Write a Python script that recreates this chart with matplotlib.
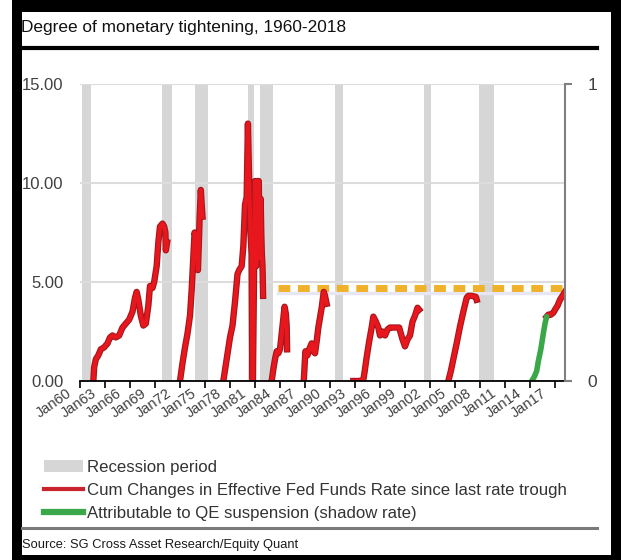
import numpy as np
import matplotlib
matplotlib.use("Agg")
import matplotlib.pyplot as plt
import matplotlib.patheffects as pe
from matplotlib.lines import Line2D
from matplotlib.patches import Patch, Rectangle
from matplotlib.transforms import ScaledTranslation

# --- data -------------------------------------------------------------------
# NBER recession periods (decimal years)
rec_start = [1960.2, 1969.8, 1973.8, 1980.1, 1981.6, 1990.6, 2001.3, 2007.9]
rec_end = [1961.3, 1971.0, 1975.4, 1980.9, 1983.1, 1991.6, 2002.1, 2009.7]

# cumulative change in effective fed funds rate since last trough (NaN breaks cycles)
nan = np.nan
red_years = [
    1961.6, 1961.7, 1961.9, 1962.2, 1962.5, 1962.9, 1963.3, 1963.6, 1963.9, 1964.3,
    1964.7, 1965.1, 1965.5, 1965.9, 1966.3, 1966.6, 1966.8, 1967.0, 1967.3, 1967.6,
    1967.9, 1968.2, 1968.4, 1968.7, 1968.9, 1969.2, 1969.4, 1969.6, 1969.9, 1970.1,
    1970.25, 1970.3, 1970.45, nan,
    1972.0, 1972.3, 1972.6, 1972.9, 1973.2, 1973.4, 1973.6, 1973.75, 1973.9, 1974.05,
    1974.15, 1974.25, 1974.35, 1974.5, 1974.6, 1974.7, nan,
    1977.2, 1977.6, 1978.0, 1978.3, 1978.6, 1978.9, 1979.1, 1979.4, 1979.6, 1979.8,
    1980.0, 1980.15, 1980.3, 1980.45, 1980.6, 1980.68, 1980.75, 1980.85, 1980.95, 1981.0,
    1981.08, 1981.15, 1981.22, 1981.3, 1981.38, 1981.45, 1981.52, 1981.6, 1981.68, 1981.75,
    1981.82, 1981.9, 1981.97, nan,
    1983.0, 1983.2, 1983.4, 1983.6, 1983.8, 1984.0, 1984.2, 1984.4, 1984.55, 1984.7,
    1984.8, 1984.85, nan,
    1986.85, 1986.95, 1987.05, 1987.3, 1987.5, 1987.8, 1988.0, 1988.2, 1988.4, 1988.6,
    1988.8, 1989.0, 1989.25, 1989.4, 1989.6, nan,
    1992.8, 1993.5, 1994.0, 1994.2, 1994.4, 1994.7, 1995.0, 1995.2, 1995.5, 1995.8,
    1996.0, 1996.3, 1996.6, 1996.9, 1997.2, 1997.8, 1998.3, 1998.7, 1999.0, 1999.3,
    1999.6, 1999.9, 2000.2, 2000.5, 2000.7, nan,
    2004.2, 2004.5, 2004.8, 2005.2, 2005.6, 2006.0, 2006.4, 2006.6, 2007.0, 2007.5,
    2007.6, nan,
    2016.0, 2016.2, 2016.5, 2016.8, 2017.0, 2017.3, 2017.6, 2017.9, 2018.2,
]
red_values = [
    0.0, 0.7, 1.1, 1.3, 1.6, 1.7, 1.9, 2.2, 2.3, 2.2,
    2.3, 2.7, 2.9, 3.1, 3.5, 4.2, 4.5, 4.1, 3.3, 2.8,
    2.9, 3.8, 4.8, 4.7, 5.0, 5.8, 7.0, 7.8, 7.95, 7.8,
    7.5, 6.6, 7.0, nan,
    0.0, 0.9, 1.7, 2.4, 3.3, 4.6, 6.3, 7.5, 7.2, 6.5,
    5.6, 6.8, 8.2, 9.65, 8.9, 8.3, nan,
    0.0, 1.1, 2.2, 2.8, 4.0, 5.4, 5.6, 5.8, 6.8, 8.9,
    9.3, 13.0, 10.0, 7.5, 6.4, 0.2, 0.0, 4.0, 8.5, 10.1,
    7.5, 5.8, 9.0, 10.1, 7.0, 10.1, 8.0, 6.2, 9.2, 7.5,
    6.4, 5.8, 4.3, nan,
    0.0, 0.6, 1.1, 1.5, 1.4, 1.6, 2.4, 3.2, 3.75, 3.4,
    2.8, 1.6, nan,
    0.0, 0.8, 1.5, 1.3, 1.6, 1.9, 1.5, 1.4, 2.0, 2.7,
    3.2, 3.7, 4.5, 4.3, 3.9, nan,
    0.0, 0.0, 0.05, 0.6, 1.2, 2.0, 2.7, 3.25, 3.0, 2.7,
    2.3, 2.5, 2.3, 2.6, 2.7, 2.7, 2.7, 2.1, 1.75, 2.1,
    2.3, 3.0, 3.3, 3.7, 3.6, nan,
    0.0, 0.5, 1.1, 1.9, 2.75, 3.5, 4.2, 4.3, 4.3, 4.25,
    4.1, nan,
    3.25, 3.35, 3.35, 3.45, 3.6, 3.8, 4.1, 4.3, 4.5,
]

# part of the current cycle attributable to QE suspension (shadow rate)
qe_years = [2014.2, 2014.5, 2014.8, 2015.0, 2015.3, 2015.6, 2015.8, 2016.0]
qe_values = [0.0, 0.2, 0.5, 1.0, 1.6, 2.4, 2.9, 3.25]

# average tightening level, shown from 1984 on
avg_level = 4.7
avg_start, avg_end = 1983.8, 2018.2

tick_years = list(range(1960, 2018, 3))
tick_labels = ["Jan%02d" % (y % 100) for y in tick_years]

legend_labels = [
    "Recession period",
    "Cum Changes in Effective Fed Funds Rate since last rate trough",
    "Attributable to QE suspension (shadow rate)",
]

plt.rcParams["font.family"] = ["Liberation Sans", "DejaVu Sans"]

W, H = 621, 560
def fx(px):
    return px / W
def fy(py):
    return 1 - py / H

fig = plt.figure(figsize=(W / 100, H / 100), dpi=100, facecolor="white")

# black frame around the panel
fig.add_artist(Rectangle((fx(12), 0), 1 - fx(12), 1, transform=fig.transFigure,
                         facecolor="black", edgecolor="none", zorder=-10))
fig.add_artist(Rectangle((fx(22), fy(555)), fx(611) - fx(22), fy(12) - fy(555),
                         transform=fig.transFigure, facecolor="white",
                         edgecolor="none", zorder=-9))

fig.text(fx(21), fy(32), "Degree of monetary tightening, 1960-2018",
         fontsize=12.4, color="#111111", va="baseline", ha="left")
fig.add_artist(Line2D([fx(22), fx(597)], [fy(48), fy(48)], transform=fig.transFigure,
                      color="black", lw=3))

ax = fig.add_axes([fx(80), fy(381), fx(565) - fx(80), fy(84) - fy(381)])
ax.set_xlim(1960, 2018.2)
ax.set_ylim(0, 15)

for s, e in zip(rec_start, rec_end):
    ax.axvspan(s, e, color="#d6d6d6", lw=0, zorder=0)

ax.set_yticks([0, 5, 10, 15])
ax.set_yticklabels(["%.2f" % v for v in [0, 5, 10, 15]])
ax.grid(axis="y", color="#dcdcdc", lw=1.5, zorder=0.5)
ax.grid(axis="x", visible=False)

# faint shadow under the dashed level
ax.plot([avg_start, avg_end], [avg_level - 0.25] * 2, color="#e6e6f5", lw=2.5, zorder=1)
ax.plot([avg_start, avg_end], [avg_level] * 2, color="#f0b22a", lw=5,
        dashes=(1.7, 1.1), zorder=2)

stroke = [pe.Stroke(linewidth=4.6, foreground="#a3181c"), pe.Normal()]
ax.plot(red_years, red_values, color="#e8161d", lw=3.0,
        solid_joinstyle="round", path_effects=stroke, zorder=3)
ax.plot(qe_years, qe_values, color="#3aa748", lw=4.0,
        solid_capstyle="round", zorder=4)

for side in ["left", "top", "right"]:
    ax.spines[side].set_visible(False)
ax.spines["bottom"].set_color("black")
ax.spines["bottom"].set_linewidth(1.3)
ax.spines["bottom"].set_zorder(5)

ax.tick_params(axis="y", length=0, pad=12, labelsize=12, labelcolor="#404040")
ax.set_xticks(tick_years)
ax.set_xticklabels(tick_labels, rotation=35, ha="right", rotation_mode="anchor")
ax.tick_params(axis="x", direction="out", length=5, width=1.2, color="black",
               labelsize=10.5, labelcolor="#404040", pad=0)
shift = ScaledTranslation(-14 / 100, 2 / 100, fig.dpi_scale_trans)
for lab in ax.get_xticklabels():
    lab.set_transform(lab.get_transform() + shift)

ax2 = ax.twinx()
ax2.set_ylim(0, 1)
ax2.set_yticks([0, 1])
ax2.set_yticklabels(["0", "1"])
for side in ["left", "top", "bottom"]:
    ax2.spines[side].set_visible(False)
ax2.spines["right"].set_color("#808080")
ax2.spines["right"].set_linewidth(1.5)
ax2.tick_params(axis="y", direction="out", length=5, width=1.5, color="#808080",
                labelsize=12.5, labelcolor="#404040", pad=11)

handles = [Patch(facecolor="#d6d6d6", edgecolor="none"),
           Line2D([], [], color="#c9242b", lw=3),
           Line2D([], [], color="#3aa748", lw=4.5)]
fig.legend(handles, legend_labels, loc="upper left",
           bbox_to_anchor=(fx(44), fy(460)), bbox_transform=fig.transFigure,
           frameon=False, fontsize=12.1, labelcolor="#333333",
           handlelength=2.35, handleheight=0.75, handletextpad=0.2,
           labelspacing=0.48, borderpad=0, borderaxespad=0)

fig.add_artist(Line2D([fx(22), fx(597)], [fy(528), fy(528)], transform=fig.transFigure,
                      color="#7a7a7a", lw=2.2))
fig.text(fx(22), fy(545), "Source: SG Cross Asset Research/Equity Quant",
         fontsize=9.3, color="#1a1a1a", va="center", ha="left")

fig.savefig("out.png", dpi=100, facecolor=fig.get_facecolor())
